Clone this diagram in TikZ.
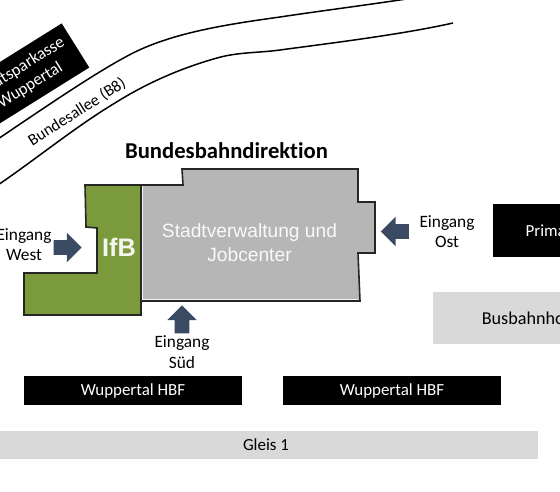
\documentclass[tikz,border=0pt]{standalone}
\usepackage{fontspec}
\usepackage{xcolor}
\setmainfont{Carlito}[Ligatures=NoCommon]
\newfontfamily\arialfont{Liberation Sans}
\usetikzlibrary{shapes,shapes.arrows,arrows.meta}
\definecolor{clrGreen}{HTML}{7A9A3B}
\definecolor{clrBuild}{HTML}{B6B6B6}
\definecolor{clrGround}{HTML}{D9D9D9}
\definecolor{clrArrow}{HTML}{3A4A63}
\definecolor{clrOutline}{HTML}{262626}
\def\px{0.75pt}
\tikzset{
  blackbox/.style={rectangle, fill=black, text=white, inner sep=0pt, align=center,
    font=\fontsize{12.7}{15}\selectfont},
  groundbox/.style={rectangle, fill=clrGround, text=black, inner sep=0pt, align=center,
    font=\fontsize{12.7}{15}\selectfont},
  entry/.style={align=center, inner sep=0pt, font=\fontsize{13}{15.2}\selectfont},
  entryarrow/.style={single arrow, fill=clrArrow, inner ysep=7*\px, inner xsep=0pt,
    minimum height=28*\px, single arrow head extend=7.5*\px},
  road/.style={line width=1.5*\px, black},
  wing/.style={line width=1.6*\px, draw=clrOutline, line join=miter},
}
\begin{document}
\begin{tikzpicture}[x=0.75pt, y=-0.75pt]
\useasboundingbox (0,0) rectangle (560,492);
\clip (0,0) rectangle (560,492);

\def\ybus{390.5}  % Mitte der HBF-Balken
\def\cA{133}
\def\cB{392}

% Sparkasse und Strasse
\node[blackbox, rotate=32, minimum width=119*\px, minimum height=52*\px] (sparkasse)
  at (25, 77) {Stadtsparkasse\\Wuppertal};
\draw[road] (-5,141) .. controls (60,97) and (100,70) .. (133,53)
  .. controls (175,32) and (230,24) .. (280,17) .. controls (320,11) and (360,6) .. (420,-3);
\draw[road] (-5,187) .. controls (35,160) and (75,127) .. (115,103)
  .. controls (150,81) and (185,67) .. (217,58) .. controls (238,52) and (258,53) .. (280,50)
  .. controls (320,44.5) and (400,35) .. (453,23);
\node[rotate=32.5, inner sep=0pt, font=\fontsize{12.3}{14}\selectfont] (allee) at (77, 112) {Bundesallee (B8)};

% Gebaeude
\node[inner sep=0pt, font=\fontsize{17}{20}\selectfont\bfseries] (bbd) at (226.5, 151) {Bundesbahndirektion};
\draw[wing, fill=clrBuild] (141,185) -- (183,185) -- (182,169) -- (358,169) -- (358,202)
  -- (375,202) -- (375,253) -- (358,253) -- (360,301) -- (141,301) -- cycle;
\draw[wing, fill=clrGreen] (141,185) -- (85,185) -- (86,227) -- (97,228) -- (97,273)
  -- (24,273) -- (24,315) -- (141,315) -- cycle;
\draw[white!85!clrBuild, line width=0.8*\px] (142,186) -- (142,299.5) -- (358,299.5);
\node[inner sep=0pt, text=white!92!clrBuild, align=center,
  font=\arialfont\fontsize{14.4}{18}\selectfont] (amt) at (249.5, 243)
  {Stadtverwaltung und\\Jobcenter};
\node[inner sep=0pt, text=white!92!clrGreen,
  font=\arialfont\fontsize{19}{20}\selectfont\bfseries] (ifb) at (119, 247) {IfB};

% Eingaenge
\node[entryarrow] (pfeilW) at (64, 247.5) {};
\node[entryarrow, rotate=90] (pfeilS) at (182, 323) {};
\node[entryarrow, rotate=180] (pfeilO) at (398.5, 231.5) {};
\node[entry] (westlbl) at (24, 244.5) {Eingang\\West};
\node[entry] (suedlbl) at (182, 352) {Eingang\\Süd};
\node[entry] (ostlbl) at (447, 231.5) {Eingang\\Ost};

% Balken
\node[blackbox, minimum width=120*\px, minimum height=53*\px] (primark) at (552.5, 230.5) {Primark};
\node[groundbox, minimum width=186*\px, minimum height=52*\px, font=\fontsize{13.6}{15}\selectfont] (bus) at (526, 318) {Busbahnhof};
\node[blackbox, minimum width=218*\px, minimum height=29*\px] (hbfA) at (\cA, \ybus) {Wuppertal HBF};
\node[blackbox, minimum width=218*\px, minimum height=29*\px] (hbfB) at (\cB, \ybus) {Wuppertal HBF};
\node[groundbox, minimum width=544*\px, minimum height=28*\px] (gleis) at (266, 445) {Gleis 1};

\end{tikzpicture}
\end{document}
